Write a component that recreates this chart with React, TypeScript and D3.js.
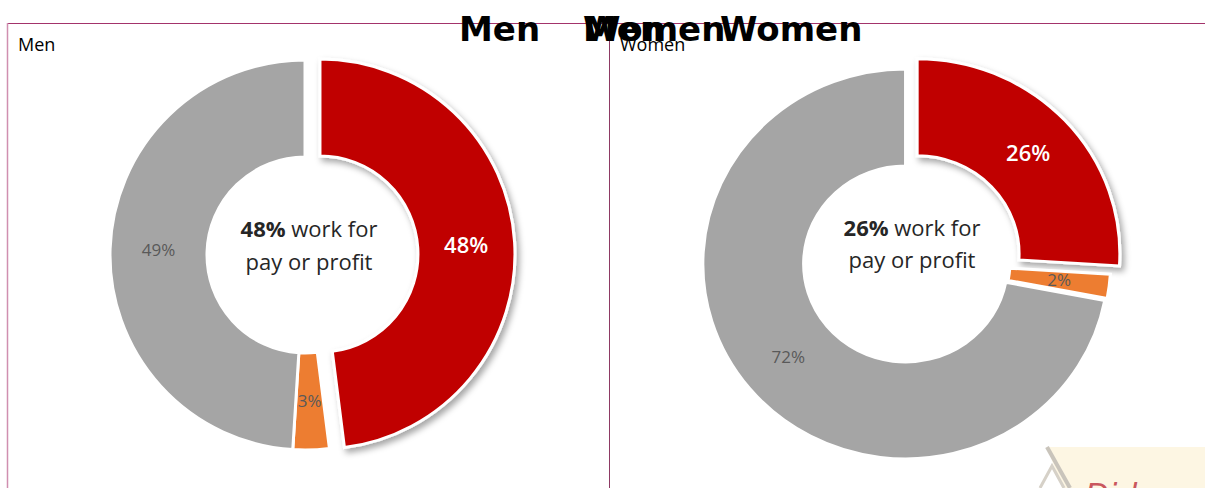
import React from "react";
import * as d3 from "d3";

const categories = ["Work for pay or profit", "Other work", "No work"];
const menValues = [48, 3, 49];
const womenValues = [26, 2, 72];
const colors = ["#c00000", "#ed7d31", "#a5a5a5"];
const titles = ["Men", "Women", "Men", "Women"];
const panelLabels = ["Men", "Women"];

type ChartCfg = {
  values: number[];
  cx: number;
  cy: number;
  sx: number;
  explode: number[];
  textDy: [number, number];
};

const charts: ChartCfg[] = [
  { values: menValues, cx: 305, cy: 255, sx: 1, explode: [15, 0, 0], textDy: [-18, 15] },
  { values: womenValues, cx: 908, cy: 262, sx: 1.04, explode: [12, 0, 3], textDy: [-26, 6] },
];

const R = 195;
const RI = 98;

function Donut({ cfg }: { cfg: ChartCfg }) {
  const pie = d3
    .pie<number>()
    .sort(null)
    .value((d) => d)
    .startAngle(0)
    .endAngle(2 * Math.PI);
  const arcs = pie(cfg.values);
  const arc = d3.arc<d3.PieArcDatum<number>>().innerRadius(RI).outerRadius(R);
  const labelArc = d3
    .arc<d3.PieArcDatum<number>>()
    .innerRadius((RI + R) / 2)
    .outerRadius((RI + R) / 2);
  const main = cfg.values[0];
  return (
    <g transform={`translate(${cfg.cx},${cfg.cy})`}>
      <g transform={`scale(${cfg.sx},1)`}>
        {arcs.map((a, i) => {
          const mid = (a.startAngle + a.endAngle) / 2;
          const off = cfg.explode[i];
          const dx = Math.sin(mid) * off;
          const dy = -Math.cos(mid) * off;
          return (
            <g key={categories[i]} transform={`translate(${dx},${dy})`}>
              <path
                d={arc(a) || ""}
                fill={colors[i]}
                stroke="#ffffff"
                strokeWidth={3}
                filter={i === 0 ? "url(#shadow)" : undefined}
              />
            </g>
          );
        })}
      </g>
      {arcs.map((a, i) => {
        const mid = (a.startAngle + a.endAngle) / 2;
        const off = cfg.explode[i];
        const dx = Math.sin(mid) * off;
        const dy = -Math.cos(mid) * off;
        const [lx, ly] = labelArc.centroid(a);
        const isMain = i === 0;
        return (
          <text
            key={"l" + i}
            x={(lx + dx) * cfg.sx}
            y={ly + dy}
            dy="0.35em"
            textAnchor="middle"
            fontFamily="'Open Sans', sans-serif"
            fontSize={isMain ? 22 : 17}
            fontWeight={isMain ? 600 : 400}
            fill={isMain ? "#ffffff" : "#595959"}
          >
            {a.data}%
          </text>
        );
      })}
      <text
        x={4}
        y={cfg.textDy[0]}
        textAnchor="middle"
        fontFamily="'Open Sans', sans-serif"
        fontSize={22}
        fill="#262626"
      >
        <tspan fontWeight={700}>{main}%</tspan>
        <tspan> work for</tspan>
      </text>
      <text
        x={4}
        y={cfg.textDy[1]}
        textAnchor="middle"
        fontFamily="'Open Sans', sans-serif"
        fontSize={22}
        fill="#262626"
      >
        pay or profit
      </text>
    </g>
  );
}

export default function App() {
  const titleX = [459, 583, 583, 720];
  return (
    <svg
      width={1205}
      height={488}
      style={{ position: "absolute", left: 0, top: 0, background: "#ffffff" }}
    >
      <defs>
        <filter id="shadow" x="-20%" y="-20%" width="150%" height="150%">
          <feDropShadow dx={3} dy={4} stdDeviation={3} floodColor="#000" floodOpacity={0.35} />
        </filter>
      </defs>
      <rect x={0} y={0} width={1205} height={488} fill="#ffffff" />
      <line x1={7} y1={23.5} x2={1205} y2={23.5} stroke="#a3336b" strokeWidth={1} />
      <line x1={7.5} y1={23} x2={7.5} y2={488} stroke="#d08fb0" strokeWidth={1.5} />
      <line x1={609.5} y1={23} x2={609.5} y2={488} stroke="#8e3a64" strokeWidth={1} />

      {charts.map((c, i) => (
        <Donut key={i} cfg={c} />
      ))}

      <g>
        <rect x={1047} y={447} width={158} height={41} fill="#fdf6e3" />
        <path d="M1047,447 L1047,488 L1062,488 Z" fill="#ffffff" />
        <path d="M1047,447 L1070,488" stroke="#c9c4bb" strokeWidth={4} fill="none" />
        <path d="M1040,488 L1052,466 L1064,488" stroke="#d6d1c8" strokeWidth={3} fill="none" />
        <text
          x={1085}
          y={505}
          fontFamily="'DejaVu Sans', sans-serif"
          fontStyle="italic"
          fontSize={31}
          fill="#c9575e"
        >
          Did you know
        </text>
      </g>

      {panelLabels.map((t, i) => (
        <text
          key={t}
          x={i === 0 ? 18 : 620}
          y={51}
          fontFamily="'Open Sans', sans-serif"
          fontSize={18}
          fill="#000"
        >
          {t}
        </text>
      ))}

      {titles.map((t, i) => (
        <text
          key={i}
          x={titleX[i]}
          y={41}
          fontFamily="'DejaVu Sans', sans-serif"
          fontWeight={700}
          fontSize={34}
          fill="#000"
        >
          {t}
        </text>
      ))}
    </svg>
  );
}
